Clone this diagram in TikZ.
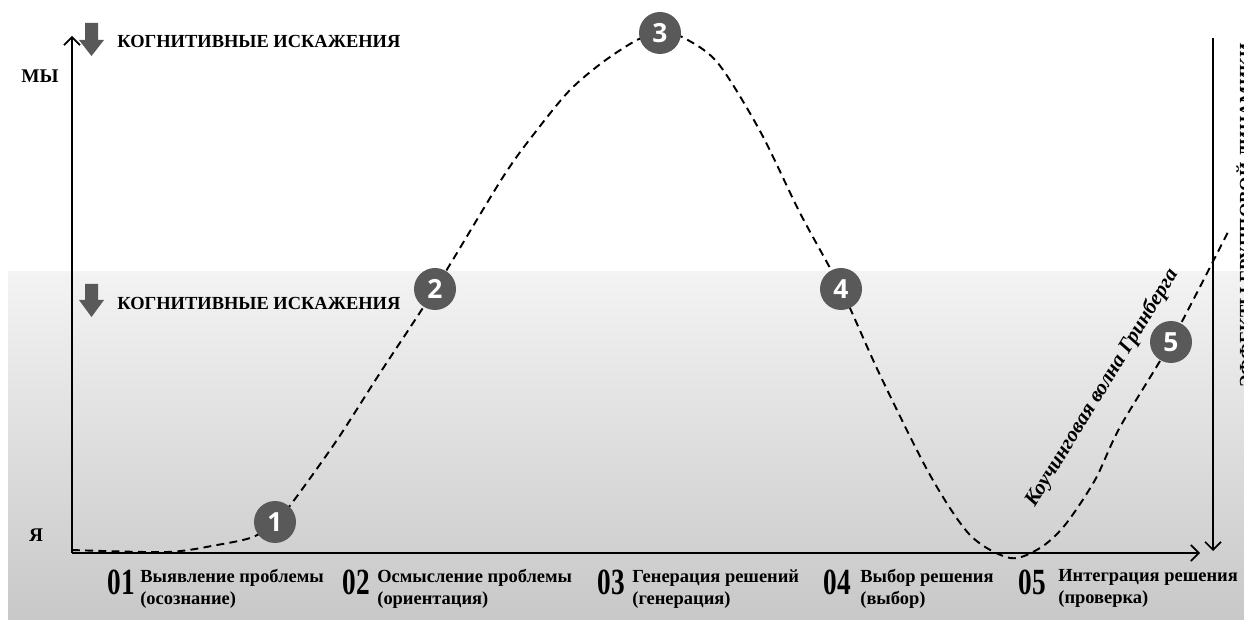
\documentclass[tikz,border=0pt]{standalone}
\usepackage{fontspec}
\setmainfont{Liberation Serif}
\newfontfamily\circfont{Open Sans}
\newfontfamily\stagefont[FakeStretch=0.74]{Liberation Serif Bold}
\usetikzlibrary{arrows.meta, positioning}

\definecolor{badgegray}{RGB}{89,89,89}
\definecolor{bandtop}{RGB}{243,243,243}
\definecolor{bandbottom}{RGB}{200,200,200}

\tikzset{
    axis/.style={line width=1.3pt, -{Straight Barb[length=4.5pt, width=9pt, line width=1pt]}},
    wave/.style={line width=1.1pt, dash pattern=on 4.5pt off 3pt},
    badge/.style={circle, fill=badgegray, minimum size=0.84cm, inner sep=0pt,
        text=white, font=\circfont\bfseries\fontsize{15}{15}\selectfont},
    capslabel/.style={font=\bfseries\fontsize{10.5}{12}\selectfont, anchor=base west, inner sep=0pt},
    stagenum/.style={font=\stagefont\fontsize{21}{21}\selectfont, anchor=base west, inner sep=0pt},
    stagetext/.style={font=\bfseries\fontsize{10.5}{12.6}\selectfont, align=left, anchor=north west, inner sep=0pt},
}

\begin{document}
\begin{tikzpicture}

        % ==========================================
        % SFONDO
        % ==========================================

        \useasboundingbox (0,0) rectangle (24.88,12.38);
        \fill[white] (0,0) rectangle (24.88,12.38);

        % Fascia grigia in basso
        \shade[top color=bandtop, bottom color=bandbottom] (0.16,0) rectangle (24.88,6.94);


        % ==========================================
        % ASSI
        % ==========================================

        \coordinate (O) at (1.44,1.32);
        \coordinate (ytop) at (1.44,11.66);
        \coordinate (xend) at (24.0,1.32);
        \coordinate (rtop) at (24.26,11.62);
        \coordinate (rbot) at (24.26,1.36);

        \draw[axis] (O) -- (ytop);
        \draw[axis] (O) -- (xend);
        \draw[axis] (rtop) -- (rbot);

        % Etichette МЫ / Я
        \node[font=\bfseries\fontsize{11}{12}\selectfont, anchor=base, inner sep=0pt] (we) at (0.80,10.72) {МЫ};
        \node[font=\bfseries\fontsize{11}{12}\selectfont, anchor=base, inner sep=0pt] (me) at (0.72,1.56) {Я};


        % ==========================================
        % ONDA TRATTEGGIATA
        % ==========================================

        \coordinate (c1) at (5.50,1.94);
        \coordinate (c2) at (8.70,6.60);
        \coordinate (c3) at (13.20,11.72);
        \coordinate (c4) at (16.82,6.60);
        \coordinate (c5) at (23.42,5.54);

        \draw[wave] plot [smooth, tension=0.5] coordinates {
            (1.44,1.38) (3.34,1.34) (4.34,1.48) (5.06,1.64)
            (c1) (5.84,2.32) (6.74,3.58) (7.60,4.92)
            (c2) (10.06,8.84) (10.74,9.78) (11.40,10.58) (12.06,11.14) (12.74,11.58)
            (c3) (13.60,11.66) (14.34,11.14) (15.20,9.76) (16.00,8.12)
            (c4) (17.60,4.88) (18.60,2.88) (19.40,1.68) (20.20,1.22)
            (20.80,1.42) (21.30,1.88) (21.90,2.78) (22.40,3.84)
            (c5) (24.56,7.74)
        };

        % Cerchi numerati
        \node[badge] (b1) at (c1) {1};
        \node[badge] (b2) at (c2) {2};
        \node[badge] (b3) at (c3) {3};
        \node[badge] (b4) at (c4) {4};
        \node[badge] (b5) at (c5) {5};

        % Nome dell'onda
        \node[font=\bfseries\itshape\fontsize{12}{12}\selectfont, rotate=58.5] (wavename) at (22.04,4.62) {Коучинговая волна Гринберга};

        % Testo verticale a destra (tagliato dal bordo)
        \node[font=\bfseries\fontsize{10.5}{12}\selectfont, rotate=90, anchor=north west, inner sep=0pt] (dyn) at (24.72,4.62) {ЭФФЕКТЫ ГРУППОВОЙ ДИНАМИКИ};


        % ==========================================
        % DISTORSIONI COGNITIVE
        % ==========================================

        \fill[badgegray] (1.70,11.92) -- (1.96,11.92) -- (1.96,11.58) -- (2.08,11.58)
            -- (1.83,11.26) -- (1.58,11.58) -- (1.70,11.58) -- cycle;
        \node[capslabel] (cog1) at (2.34,11.42) {КОГНИТИВНЫЕ ИСКАЖЕНИЯ};

        \fill[badgegray] (1.70,6.70) -- (1.96,6.70) -- (1.96,6.38) -- (2.08,6.38)
            -- (1.83,6.04) -- (1.58,6.38) -- (1.70,6.38) -- cycle;
        \node[capslabel] (cog2) at (2.34,6.18) {КОГНИТИВНЫЕ ИСКАЖЕНИЯ};


        % ==========================================
        % FASI SULL'ASSE X
        % ==========================================

        \node[stagenum] (n1) at (2.14,0.50) {01};
        \node[stagetext] (t1) at (2.80,1.00) {Выявление проблемы\\(осознание)};

        \node[stagenum] (n2) at (6.84,0.50) {02};
        \node[stagetext] (t2) at (7.54,1.00) {Осмысление проблемы\\(ориентация)};

        \node[stagenum] (n3) at (11.94,0.50) {03};
        \node[stagetext] (t3) at (12.64,1.00) {Генерация решений\\(генерация)};

        \node[stagenum] (n4) at (16.46,0.50) {04};
        \node[stagetext] (t4) at (17.20,1.00) {Выбор решения\\(выбор)};

        \node[stagenum] (n5) at (20.36,0.50) {05};
        \node[stagetext] (t5) at (21.16,1.00) {Интеграция решения\\(проверка)};

\end{tikzpicture}
\end{document}
